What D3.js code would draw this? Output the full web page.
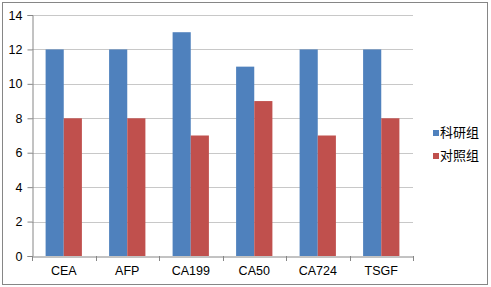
<!DOCTYPE html>
<html>
<head>
<meta charset="utf-8">
<script src="https://cdn.jsdelivr.net/npm/d3@7"></script>
<style>
  body { margin: 0; background: #fff; }
  svg { display: block; }
</style>
</head>
<body>
<div id="chart"></div>
<script>
// chart data
const categories = ['CEA', 'AFP', 'CA199', 'CA50', 'CA724', 'TSGF'];
const seriesNames = ['科研组', '对照组'];
const researchValues = [12, 12, 13, 11, 12, 12];
const controlValues = [8, 8, 7, 9, 7, 8];
const yTicks = [0, 2, 4, 6, 8, 10, 12, 14];
const colors = ['#4F81BD', '#C0504D'];

const W = 491, H = 287;
const plot = { left: 32, right: 413, top: 15, bottom: 256 };

const svg = d3.select('#chart')
    .append('svg')
    .attr('width', W)
    .attr('height', H);

// outer frame
svg.append('rect')
    .attr('x', 2.5).attr('y', 2.5)
    .attr('width', 485).attr('height', 282)
    .attr('fill', '#fff')
    .attr('stroke', '#868686')
    .attr('stroke-width', 1);

const x = d3.scaleBand()
    .domain(categories)
    .range([plot.left, plot.right])
    .paddingInner(0)
    .paddingOuter(0);

const bandW = x.bandwidth();
const barW = bandW / 3.5;   // gap width 150%

const xSeries = d3.scaleBand()
    .domain(seriesNames)
    .range([barW * 0.75, barW * 2.75]);

const y = d3.scaleLinear()
    .domain([0, 14])
    .range([plot.bottom, plot.top]);

// gridlines
svg.append('g')
    .selectAll('line')
    .data(yTicks.filter(d => d > 0))
    .enter()
    .append('line')
    .attr('x1', plot.left)
    .attr('x2', plot.right)
    .attr('y1', d => Math.round(y(d)) + 0.5)
    .attr('y2', d => Math.round(y(d)) + 0.5)
    .attr('stroke', '#C8C8C8')
    .attr('stroke-width', 1);

// y axis
const yAxis = svg.append('g')
    .attr('transform', `translate(${plot.left + 0.5},0)`)
    .call(d3.axisLeft(y).tickValues(yTicks).tickSize(5).tickPadding(5));
yAxis.select('.domain').attr('stroke', '#868686');
yAxis.selectAll('.tick line').attr('stroke', '#868686');
yAxis.selectAll('text')
    .attr('font-family', 'Liberation Sans, Arial, sans-serif')
    .attr('font-size', '12.5px')
    .attr('fill', '#000');

// bars
const rows = categories.map((c, i) => ({ cat: c, vals: [researchValues[i], controlValues[i]] }));

const groups = svg.append('g')
    .selectAll('g')
    .data(rows)
    .enter()
    .append('g')
    .attr('transform', d => `translate(${x(d.cat)},0)`);

groups.selectAll('rect')
    .data(d => d.vals.map((v, k) => ({ name: seriesNames[k], v, k })))
    .enter()
    .append('rect')
    .attr('x', d => xSeries(d.name))
    .attr('y', d => y(d.v))
    .attr('width', xSeries.bandwidth())
    .attr('height', d => y(0) - y(d.v))
    .attr('fill', d => colors[d.k]);

// x axis
const xAxis = svg.append('g')
    .attr('transform', `translate(0,${Math.round(plot.bottom) + 0.5})`)
    .call(d3.axisBottom(x).tickSize(0).tickPadding(10));
xAxis.select('.domain').attr('stroke', '#868686');
xAxis.selectAll('text')
    .attr('font-family', 'Liberation Sans, Arial, sans-serif')
    .attr('font-size', '12.5px')
    .attr('fill', '#000');

// x tick marks between categories
svg.append('g')
    .selectAll('line')
    .data(categories.concat(['_end']))
    .enter()
    .append('line')
    .attr('x1', (d, i) => Math.round(plot.left + i * bandW) + 0.5)
    .attr('x2', (d, i) => Math.round(plot.left + i * bandW) + 0.5)
    .attr('y1', plot.bottom)
    .attr('y2', plot.bottom + 5)
    .attr('stroke', '#868686');

// legend
const legend = svg.append('g')
    .attr('transform', 'translate(433,125)');

const items = legend.selectAll('g')
    .data(seriesNames)
    .enter()
    .append('g')
    .attr('transform', (d, i) => `translate(0,${i * 23})`);

items.append('rect')
    .attr('x', 0)
    .attr('y', 5)
    .attr('width', 6)
    .attr('height', 6)
    .attr('fill', (d, i) => colors[i]);

items.append('text')
    .attr('x', 7)
    .attr('y', 8)
    .attr('dominant-baseline', 'middle')
    .attr('font-family', 'Noto Sans CJK SC, sans-serif')
    .attr('font-size', '13px')
    .attr('fill', '#000')
    .text(d => d);
</script>
</body>
</html>
